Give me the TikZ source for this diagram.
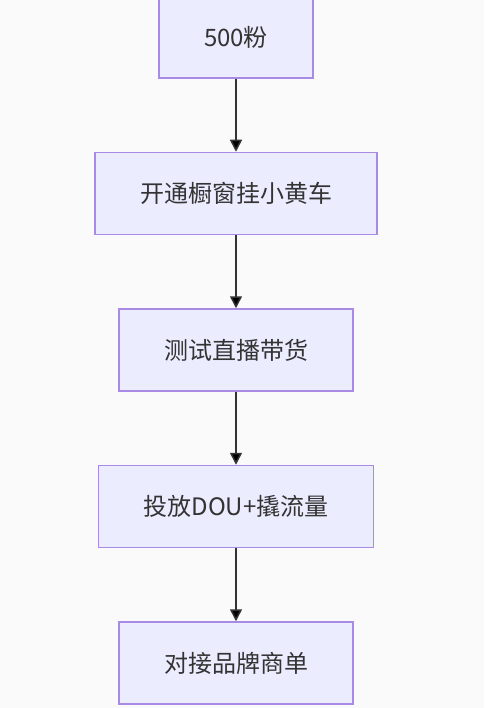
\documentclass[tikz,border=0pt]{standalone}
\usepackage{fontspec}
\setmainfont{Noto Sans CJK SC}
\usetikzlibrary{arrows.meta, positioning}
\definecolor{boxfill}{HTML}{ECECFF}
\definecolor{boxline}{HTML}{A98BE6}
\definecolor{ink}{HTML}{333333}
\definecolor{bg}{HTML}{FAFAFA}

\begin{document}
\begin{tikzpicture}[node distance=156.5pt,on grid,
  stage/.style={draw=boxline, fill=boxfill, line width=1.5pt, minimum height=82pt, inner xsep=45pt, text=ink, font=\fontsize{24}{27}\selectfont},
  flow/.style={draw=ink, line width=1.5pt, -{Triangle[length=12pt,width=12pt]}}]
\fill[bg] (0,0) rectangle (484pt,-708pt);
\useasboundingbox (0,0) rectangle (484pt,-708pt);
\node[stage] (fans) at (236pt,-37pt) {500粉};
\node[stage, below = of fans] (window) {开通橱窗挂小黄车};
\node[stage, below = of window] (live) {测试直播带货};
\node[stage, below = of live] (dou) {投放DOU+撬流量};
\node[stage, below = of dou] (brand) {对接品牌商单};

\path[flow] (fans) edge (window)
          (window) edge (live)
          (live) edge (dou)
          (dou) edge (brand);

\end{tikzpicture}
\end{document}
